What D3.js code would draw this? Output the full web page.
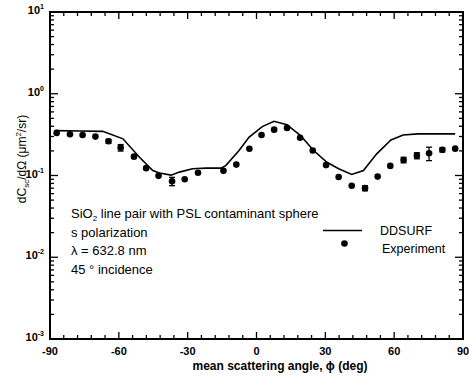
<!DOCTYPE html>
<html><head><meta charset="utf-8">
<script src="https://cdn.jsdelivr.net/npm/d3@7"></script>
<style>body{margin:0;background:#fff}svg{display:block}text{font-family:"Liberation Sans",Arial,sans-serif;fill:#000}</style>
</head><body><svg id="c" width="469" height="376"></svg>
<script>
// Experiment (angle deg, value µm²/sr, ± error)
const expAngle = [-87.1,-81.3,-75.8,-70.2,-64.5,-59.2,-53.4,-48.1,-42.7,-36.8,-31.3,-25.5,-14.4,-8.8,-3.1,2.2,7.7,13.3,19.0,24.5,30.3,35.8,41.5,47.3,52.8,58.3,64.1,69.9,75.2,81.0,86.6];
const expValue = [0.332,0.319,0.313,0.299,0.262,0.219,0.170,0.123,0.099,0.085,0.090,0.108,0.114,0.136,0.212,0.313,0.364,0.382,0.290,0.202,0.134,0.096,0.075,0.070,0.097,0.131,0.155,0.175,0.187,0.206,0.213];
const expErr   = [0,0,0,0,0.015,0.02,0,0,0,0.01,0,0,0,0,0,0,0,0,0,0,0,0,0,0.005,0,0,0.012,0.015,0.035,0.012,0];
// DDSURF theory
const thAngle = [-87.8,-77,-67.0,-58.2,-51.0,-45.2,-42.3,-37.2,-33.6,-27.9,-22.0,-15.5,-13.4,-7.6,-3.3,2.5,7.6,13.3,19.2,24.9,30.7,35.8,41.5,46.6,52.4,58.6,63.9,70.4,86.6];
const thValue = [0.354,0.350,0.347,0.281,0.167,0.115,0.107,0.101,0.110,0.121,0.123,0.123,0.132,0.202,0.293,0.396,0.460,0.418,0.308,0.202,0.145,0.121,0.103,0.115,0.184,0.272,0.313,0.323,0.323];
const xTicks = [-90,-60,-30,0,30,60,90];
const yTicks = [1e-3,1e-2,1e-1,1,10];
const yTickExp = ["-3","-2","-1","0","1"];
const notes = ["SiO|2| line pair with PSL contaminant sphere","s polarization","λ = 632.8 nm","45 ° incidence"];

const svg = d3.select("#c");
const L=50,R=463,T=12,B=339;
const x = d3.scaleLinear().domain([-90,90]).range([L,R]);
const y = d3.scaleLog().domain([1e-3,10]).range([B,T]);

// frame
svg.append("rect").attr("x",L).attr("y",T).attr("width",R-L).attr("height",B-T)
  .attr("fill","none").attr("stroke","#000").attr("stroke-width",2);

// x ticks (inward, bottom & top)
const xMinor = d3.range(-90,91,6);
const xt = svg.append("g").attr("stroke","#000").attr("stroke-width",1.3);
xMinor.forEach(v=>{
  const major = xTicks.includes(v); const len = major?7:4;
  xt.append("line").attr("x1",x(v)).attr("x2",x(v)).attr("y1",B).attr("y2",B-len);
  xt.append("line").attr("x1",x(v)).attr("x2",x(v)).attr("y1",T).attr("y2",T+len);
});
// y ticks
const yt = svg.append("g").attr("stroke","#000").attr("stroke-width",1.3);
for(let e=-3;e<1;e++){
  for(let m=1;m<10;m++){
    const v=m*Math.pow(10,e); const len = m===1?8:4;
    yt.append("line").attr("x1",L).attr("x2",L+len).attr("y1",y(v)).attr("y2",y(v));
    yt.append("line").attr("x1",R).attr("x2",R-len).attr("y1",y(v)).attr("y2",y(v));
  }
}
// tick labels
xTicks.forEach(v=>{
  svg.append("text").attr("x",x(v)).attr("y",355).attr("text-anchor","middle")
    .attr("font-size",11).attr("font-weight","bold").text(v);
});
yTicks.forEach((v,i)=>{
  const t = svg.append("text").attr("x",44).attr("y",y(v)+2).attr("text-anchor","end")
    .attr("font-size",11).attr("font-weight","bold");
  t.append("tspan").text("10");
  t.append("tspan").attr("dy",-5).attr("font-size",7).text(yTickExp[i]);
});

// axis titles
svg.append("text").attr("x",280).attr("y",370).attr("text-anchor","middle")
  .attr("font-size",12).attr("font-weight","bold").text("mean scattering angle, ϕ (deg)");
const yl = svg.append("text").attr("transform","translate(26,159) rotate(-90)")
  .attr("text-anchor","middle").attr("font-size",12);
yl.append("tspan").text("dC");
yl.append("tspan").attr("dy",3).attr("font-size",8).text("sc");
yl.append("tspan").attr("dy",-3).text("/dΩ (μm");
yl.append("tspan").attr("dy",-5).attr("font-size",8).text("2");
yl.append("tspan").attr("dy",5).text("/sr)");

// theory line
svg.append("path").datum(thAngle.map((a,i)=>[a,thValue[i]]))
  .attr("d",d3.line().x(d=>x(d[0])).y(d=>y(d[1])))
  .attr("fill","none").attr("stroke","#000").attr("stroke-width",1.6);

// experiment
const ex = svg.append("g");
expAngle.forEach((a,i)=>{
  const v=expValue[i], e=expErr[i];
  if(e>0){
    const y1=y(v+e), y2=y(v-e);
    ex.append("line").attr("x1",x(a)).attr("x2",x(a)).attr("y1",y1).attr("y2",y2).attr("stroke","#000").attr("stroke-width",1.3);
    ex.append("line").attr("x1",x(a)-3).attr("x2",x(a)+3).attr("y1",y1).attr("y2",y1).attr("stroke","#000").attr("stroke-width",1.3);
    ex.append("line").attr("x1",x(a)-3).attr("x2",x(a)+3).attr("y1",y2).attr("y2",y2).attr("stroke","#000").attr("stroke-width",1.3);
  }
  ex.append("circle").attr("cx",x(a)).attr("cy",y(v)).attr("r",3.3).attr("fill","#000");
});

// annotations
notes.forEach((s,i)=>{
  const t = svg.append("text").attr("x",71).attr("y",218+i*18.7).attr("font-size",13);
  const parts = s.split("|");
  t.append("tspan").text(parts[0]);
  if(parts.length>1){
    t.append("tspan").attr("dy",3).attr("font-size",8).text(parts[1]);
    t.append("tspan").attr("dy",-3).text(parts[2]);
  }
});

// legend
svg.append("line").attr("x1",323).attr("x2",362).attr("y1",230.5).attr("y2",230.5).attr("stroke","#000").attr("stroke-width",1.6);
svg.append("text").attr("x",380).attr("y",235).attr("font-size",12.5).text("DDSURF");
svg.append("circle").attr("cx",344.5).attr("cy",243.5).attr("r",3.3).attr("fill","#000");
svg.append("text").attr("x",382).attr("y",253).attr("font-size",12.5).text("Experiment");
</script></body></html>
